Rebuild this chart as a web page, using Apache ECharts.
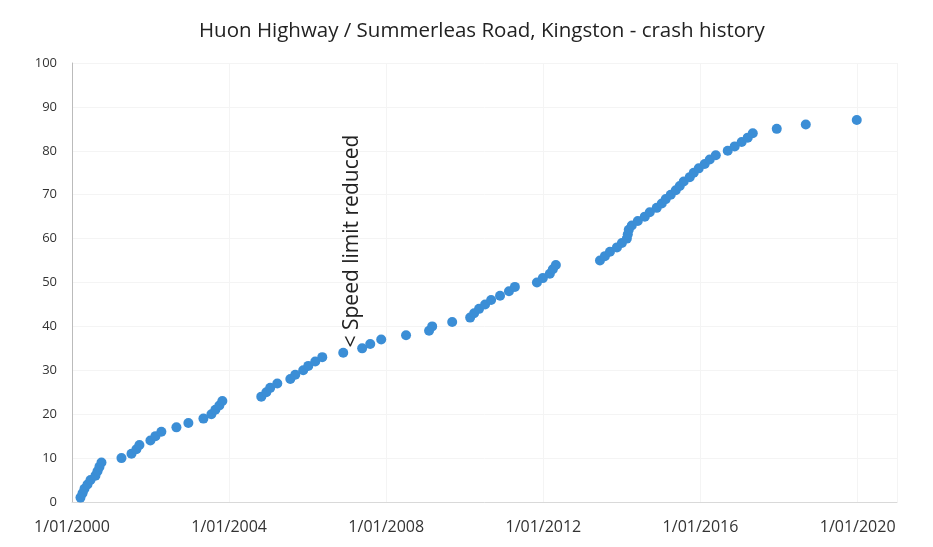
<!DOCTYPE html>
<html>
<head>
<meta charset="UTF-8">
<script src="https://cdn.jsdelivr.net/npm/echarts@6/dist/echarts.min.js"></script>
<style>
  html, body { margin: 0; padding: 0; background: #fff; }
  #chart { width: 933px; height: 547px; }
</style>
</head>
<body>
<div id="chart"></div>
<script>
// crash dates and cumulative crash count
var crashDates = [
  '2000-03-20', '2000-04-08', '2000-04-26', '2000-05-24', '2000-06-21', '2000-08-06', '2000-08-25', '2000-09-12', '2000-10-01',
  '2001-04-05', '2001-07-07', '2001-08-22', '2001-09-19', '2001-12-30', '2002-02-15', '2002-04-11', '2002-08-29', '2002-12-18',
  '2003-05-07', '2003-07-20', '2003-08-26', '2003-10-02', '2003-10-30',
  '2004-10-26', '2004-12-12', '2005-01-17', '2005-03-24', '2005-07-23', '2005-09-07', '2005-11-20', '2006-01-06', '2006-03-12',
  '2006-05-16', '2006-11-27', '2007-05-22', '2007-08-05', '2007-11-15',
  '2008-07-03', '2009-02-02', '2009-03-03', '2009-09-05', '2010-02-19', '2010-03-28', '2010-05-13', '2010-07-08', '2010-09-02',
  '2010-11-24', '2011-02-15', '2011-04-11', '2011-11-02', '2011-12-27', '2012-03-01', '2012-03-29', '2012-04-26',
  '2013-06-10', '2013-07-26', '2013-09-11', '2013-11-15', '2013-12-31', '2014-02-15', '2014-02-24', '2014-03-05', '2014-04-02',
  '2014-05-28', '2014-08-01', '2014-09-16', '2014-11-20', '2015-01-06', '2015-02-12', '2015-03-30', '2015-05-16', '2015-06-22',
  '2015-07-29', '2015-09-23', '2015-10-30', '2015-12-16', '2016-02-09', '2016-03-27', '2016-05-22', '2016-09-10', '2016-11-14',
  '2017-01-18', '2017-03-15', '2017-05-01', '2017-12-10', '2018-09-06', '2019-12-24'
];
var crashCount = [
  1, 2, 3, 4, 5, 6, 7, 8, 9,
  10, 11, 12, 13, 14, 15, 16, 17, 18,
  19, 20, 21, 22, 23,
  24, 25, 26, 27, 28, 29, 30, 31, 32,
  33, 34, 35, 36, 37,
  38, 39, 40, 41, 42, 43, 44, 45, 46,
  47, 48, 49, 50, 51, 52, 53, 54,
  55, 56, 57, 58, 59, 60, 61, 62, 63,
  64, 65, 66, 67, 68, 69, 70, 71, 72,
  73, 74, 75, 76, 77, 78, 79, 80, 81,
  82, 83, 84, 85, 86, 87
];
var xTickYears = [2000, 2004, 2008, 2012, 2016, 2020];
var xAxisEnd = '2021-01-01';
var yTicks = [0, 10, 20, 30, 40, 50, 60, 70, 80, 90, 100];

var annotText = '< Speed limit reduced';
var annotDate = '2007-02-19';
var annotValue = 35.2;

var startDate = '2000-01-01';
var DAY = 86400000;
function toDays(s) {
  var p = s.split('-');
  var a = startDate.split('-');
  return (Date.UTC(+p[0], +p[1] - 1, +p[2]) - Date.UTC(+a[0], +a[1] - 1, +a[2])) / DAY;
}
// 4 years incl. one leap day
var tickStep = toDays(xTickYears[1] + '-01-01') - toDays(xTickYears[0] + '-01-01');

var points = crashDates.map(function (d, i) { return [toDays(d), crashCount[i]]; });

var font = '"Open Sans", "Noto Sans", sans-serif';
var chart = echarts.init(document.getElementById('chart'), null, { renderer: 'canvas' });
chart.setOption({
  animation: false,
  backgroundColor: '#fff',
  title: {
    text: 'Huon Highway / Summerleas Road, Kingston - crash history',
    left: 194,
    top: 16,
    textStyle: { fontFamily: font, fontSize: 20.5, fontWeight: 'normal', color: '#222' }
  },
  grid: { left: 72, right: 36, top: 63, bottom: 45 },
  xAxis: {
    type: 'value',
    min: 0,
    max: toDays(xAxisEnd),
    interval: tickStep,
    axisLine: { show: true, lineStyle: { color: '#d9d9d9' } },
    axisTick: { show: false },
    splitLine: { show: true, lineStyle: { color: '#f4f4f4' } },
    axisLabel: {
      margin: 17,
      fontFamily: font, fontSize: 16, color: '#333',
      formatter: function (v) {
        var k = Math.round(v / tickStep);
        if (Math.abs(v - k * tickStep) > 0.5 || k >= xTickYears.length) return '';
        return '1/01/' + xTickYears[k];
      }
    }
  },
  yAxis: {
    type: 'value',
    min: yTicks[0],
    max: yTicks[yTicks.length - 1],
    interval: yTicks[1] - yTicks[0],
    axisLine: { show: true, lineStyle: { color: '#bbb' } },
    axisTick: { show: false },
    splitLine: { show: true, lineStyle: { color: '#f4f4f4' } },
    axisLabel: { margin: 15, fontFamily: font, fontSize: 13, color: '#333' }
  },
  series: [{
    type: 'scatter',
    symbol: 'circle',
    symbolSize: 10,
    itemStyle: { color: '#3b8ed6', opacity: 1 },
    data: points
  }]
});

var anchor = chart.convertToPixel({ gridIndex: 0 }, [toDays(annotDate), annotValue]);
chart.setOption({
  graphic: [{
    type: 'text',
    x: anchor[0],
    y: anchor[1],
    rotation: Math.PI / 2,
    style: {
      text: annotText,
      font: '21px ' + font,
      fill: '#222',
      textAlign: 'left',
      textVerticalAlign: 'middle'
    }
  }]
});
</script>
</body>
</html>
